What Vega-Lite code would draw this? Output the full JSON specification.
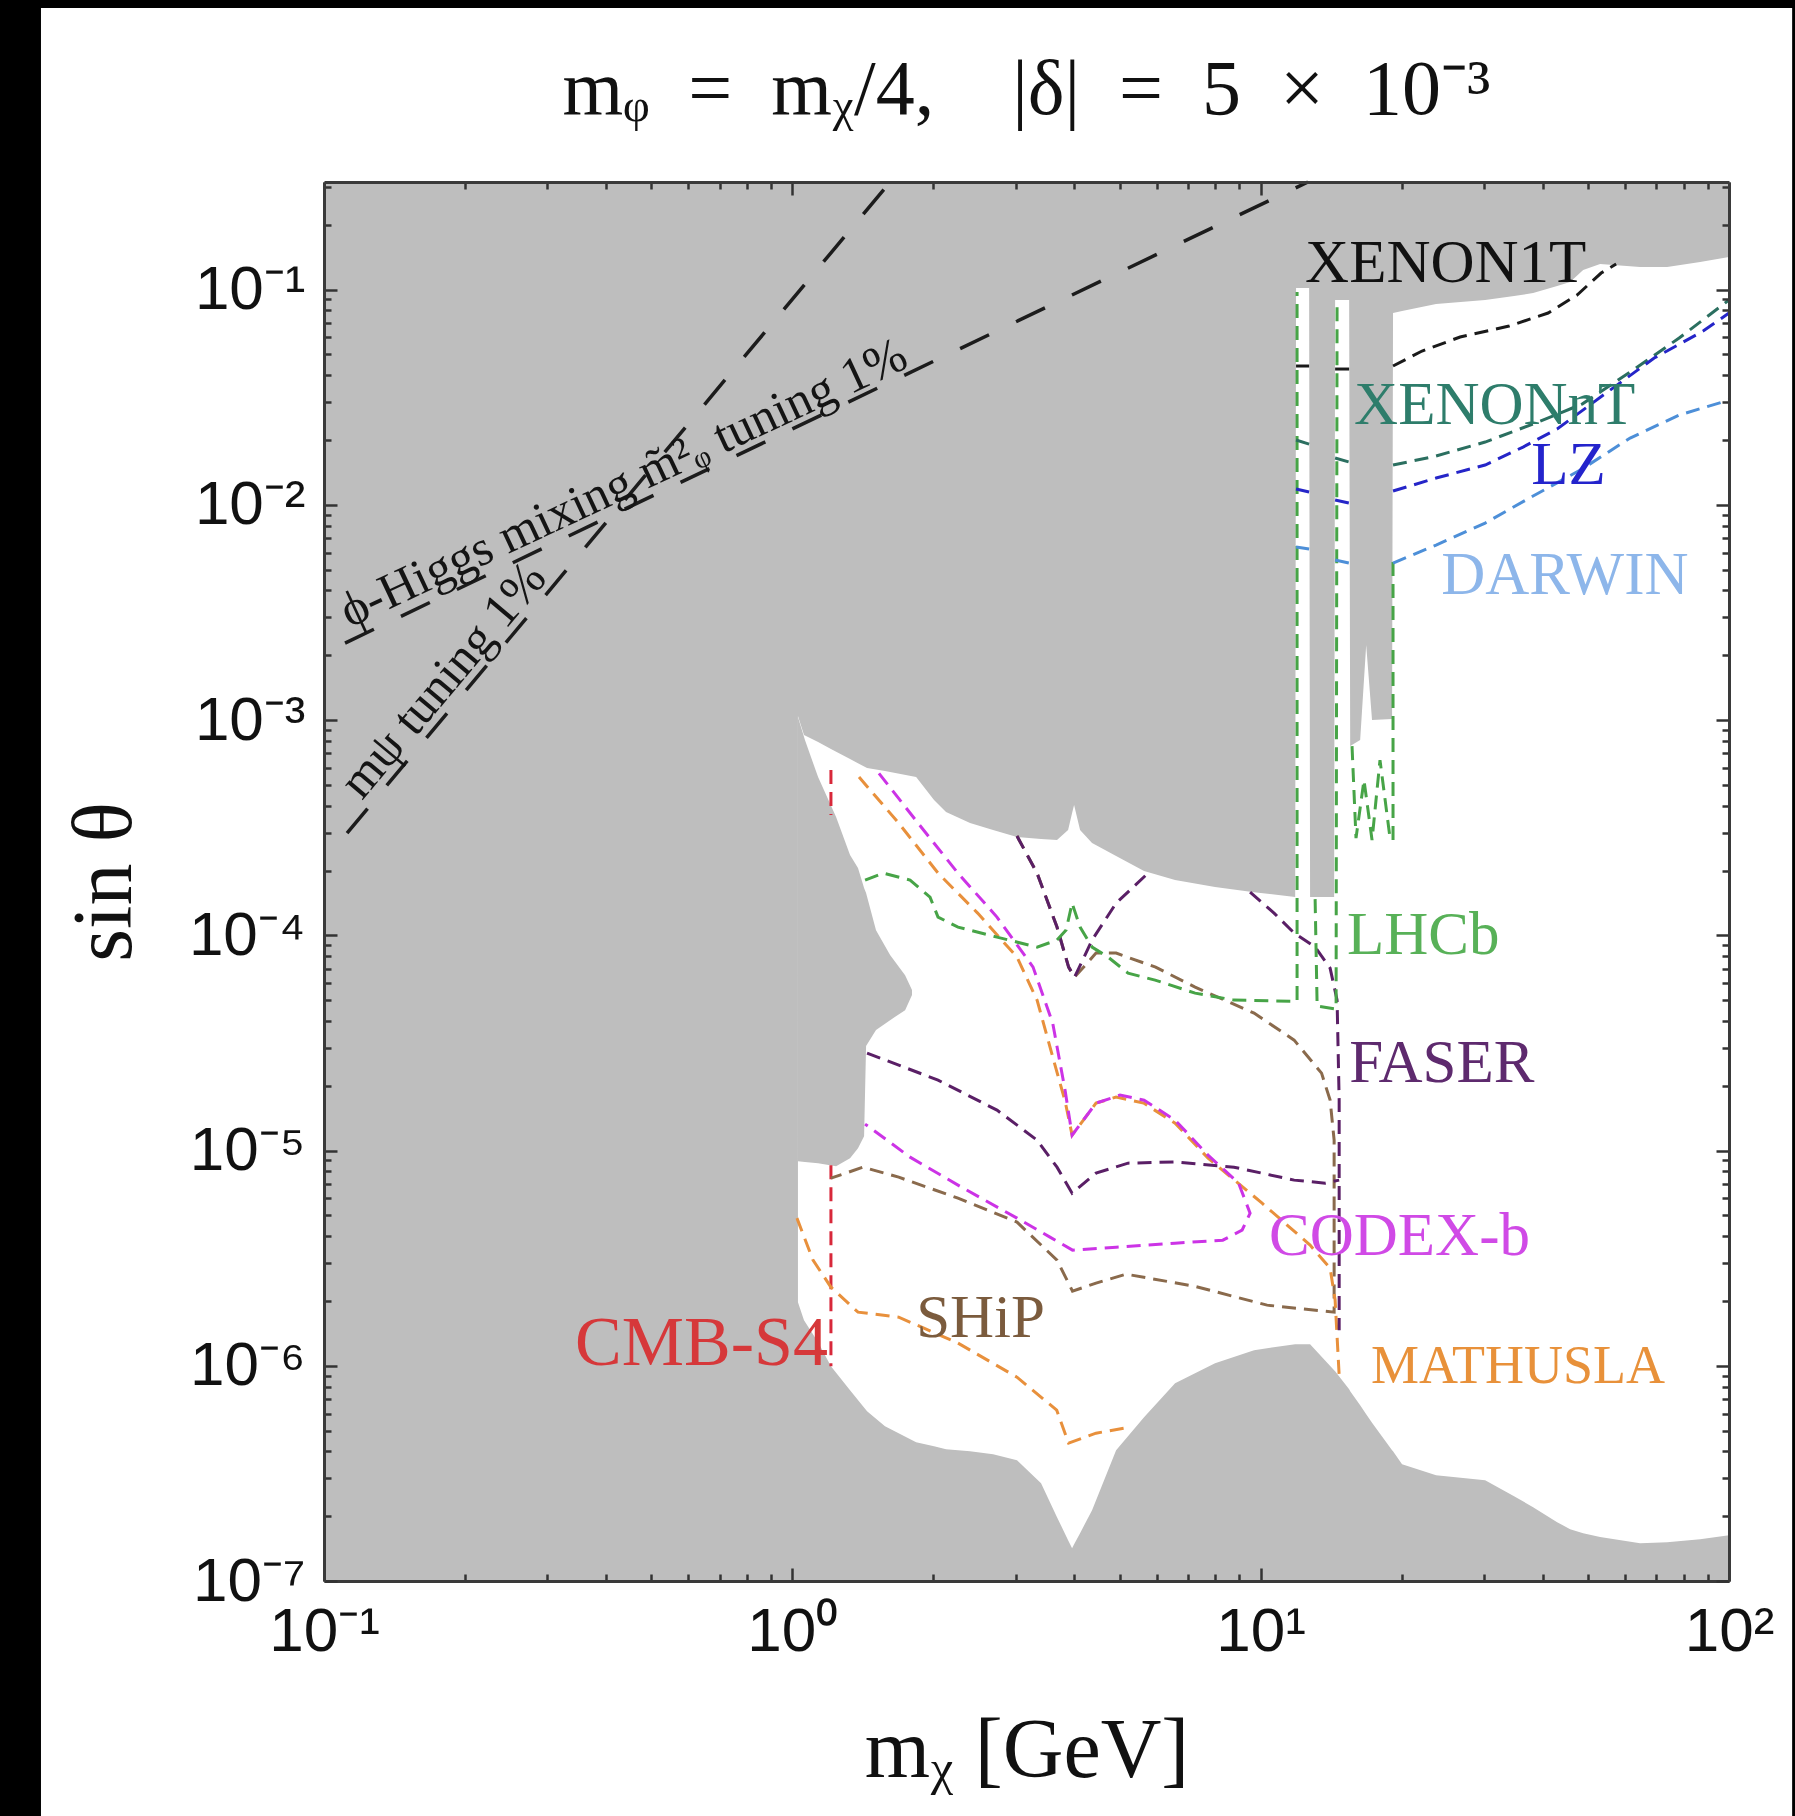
{
  "$schema": "https://vega.github.io/schema/vega-lite/v6.json",
  "width": 1405,
  "height": 1399,
  "autosize": {"type": "none"},
  "padding": {"left": 324, "top": 182, "right": 66, "bottom": 235},
  "background": "black",
  "config": {"view": {"stroke": null, "fill": null}},
  "title": {"text": "mᵩ\u2002=\u2002mᵪ/4,\u2002\u2002|δ|\u2002=\u20025\u2002×\u200210⁻³", "font": "Liberation Serif", "fontSize": 78, "fontWeight": "normal", "color": "#111111", "anchor": "middle", "frame": "group", "baseline": "alphabetic", "offset": -184},
  "datasets": {
    "panel": [{"x": 0.02487, "x2": 136.4, "y": 2.035, "y2": 1e-9}],
    "plot": [{"x": 0.1, "x2": 100, "y": 0.316228, "y2": 1e-7}],
    "white": [
      {"x": 1.028, "hi": 1.044e-3, "lo": 1.975e-6},
      {"x": 1.059, "hi": 8.518e-4, "lo": 1.629e-6},
      {"x": 1.135, "hi": 7.902e-4, "lo": 1.287e-6},
      {"x": 1.209, "hi": 7.334e-4, "lo": 9.956e-7},
      {"x": 1.328, "hi": 6.589e-4, "lo": 7.702e-7},
      {"x": 1.444, "hi": 5.984e-4, "lo": 6.152e-7},
      {"x": 1.577, "hi": 5.794e-4, "lo": 5.240e-7},
      {"x": 1.838, "hi": 5.435e-4, "lo": 4.416e-7},
      {"x": 2.007, "hi": 4.250e-4, "lo": 4.231e-7},
      {"x": 2.129, "hi": 3.737e-4, "lo": 4.097e-7},
      {"x": 2.396, "hi": 3.322e-4, "lo": 4.010e-7},
      {"x": 2.683, "hi": 3.082e-4, "lo": 3.883e-7},
      {"x": 3.018, "hi": 2.860e-4, "lo": 3.642e-7},
      {"x": 3.397, "hi": 2.799e-4, "lo": 2.847e-7},
      {"x": 3.674, "hi": 2.770e-4, "lo": 1.980e-7},
      {"x": 3.880, "hi": 3.082e-4, "lo": 1.547e-7},
      {"x": 3.957, "hi": 3.697e-4, "lo": 1.420e-7},
      {"x": 3.996, "hi": 4.027e-4, "lo": 1.483e-7},
      {"x": 4.115, "hi": 3.082e-4, "lo": 1.668e-7},
      {"x": 4.365, "hi": 2.682e-4, "lo": 2.133e-7},
      {"x": 4.913, "hi": 2.333e-4, "lo": 4.053e-7},
      {"x": 5.636, "hi": 1.988e-4, "lo": 5.770e-7},
      {"x": 6.565, "hi": 1.805e-4, "lo": 8.301e-7},
      {"x": 7.991, "hi": 1.675e-4, "lo": 1.028e-6},
      {"x": 9.681, "hi": 1.587e-4, "lo": 1.182e-6},
      {"x": 11.85, "hi": 1.505e-4, "lo": 1.260e-6},
      {"x": 11.90, "hi": 0.1017, "lo": 1.260e-6},
      {"x": 12.69, "hi": 0.1017, "lo": 1.260e-6},
      {"x": 12.75, "hi": 1.505e-4, "lo": 1.260e-6},
      {"x": 14.35, "hi": 1.505e-4, "lo": 9.541e-7},
      {"x": 14.42, "hi": 0.08948, "lo": 9.44e-7},
      {"x": 15.45, "hi": 0.08948, "lo": 7.786e-7},
      {"x": 15.53, "hi": 7.571e-4, "lo": 7.621e-7},
      {"x": 16.31, "hi": 8.073e-4, "lo": 6.560e-7},
      {"x": 16.80, "hi": 2.231e-3, "lo": 5.958e-7},
      {"x": 17.29, "hi": 1.0e-3, "lo": 5.440e-7},
      {"x": 19.08, "hi": 1.011e-3, "lo": 4.053e-7},
      {"x": 19.17, "hi": 0.07786, "lo": 4.010e-7},
      {"x": 20.04, "hi": 0.07955, "lo": 3.490e-7},
      {"x": 23.69, "hi": 0.08573, "lo": 3.102e-7},
      {"x": 30.15, "hi": 0.08948, "lo": 2.940e-7},
      {"x": 34.76, "hi": 0.09339, "lo": 2.478e-7},
      {"x": 38.17, "hi": 0.09643, "lo": 2.202e-7},
      {"x": 42.96, "hi": 0.1039, "lo": 1.876e-7},
      {"x": 45.79, "hi": 0.1085, "lo": 1.741e-7},
      {"x": 48.82, "hi": 0.1233, "lo": 1.668e-7},
      {"x": 53.06, "hi": 0.1315, "lo": 1.60e-7},
      {"x": 64.59, "hi": 0.1274, "lo": 1.498e-7},
      {"x": 73.77, "hi": 0.1274, "lo": 1.514e-7},
      {"x": 86.76, "hi": 0.1344, "lo": 1.564e-7},
      {"x": 100, "hi": 0.1417, "lo": 1.632e-7}
    ],
    "patch": [
      {"x": 1.028, "hi": 1.033e-3, "lo": 8.928e-6},
      {"x": 1.064, "hi": 8.073e-4, "lo": 8.85e-6},
      {"x": 1.135, "hi": 5.435e-4, "lo": 8.738e-6},
      {"x": 1.240, "hi": 3.542e-4, "lo": 8.462e-6},
      {"x": 1.328, "hi": 2.36e-4, "lo": 9.22e-6},
      {"x": 1.381, "hi": 2.053e-4, "lo": 1.026e-5},
      {"x": 1.423, "hi": 1.657e-4, "lo": 1.166e-5},
      {"x": 1.437, "hi": 1.571e-4, "lo": 3.056e-5},
      {"x": 1.509, "hi": 1.057e-4, "lo": 3.627e-5},
      {"x": 1.617, "hi": 8.091e-5, "lo": 4.035e-5},
      {"x": 1.741, "hi": 6.531e-5, "lo": 4.491e-5},
      {"x": 1.801, "hi": 5.565e-5, "lo": 5.274e-5}
    ],
    "tuning": [
      {"x": 0.1120, "y": 2.985e-4, "seg": "A"},
      {"x": 1.617, "y": 0.316228, "seg": "A"},
      {"x": 0.1109, "y": 2.279e-3, "seg": "B"},
      {"x": 12.62, "y": 0.316228, "seg": "B"}
    ],
    "tuningText": [
      {"x": 0.4501, "y": 1.087e-2, "text": "ϕ-Higgs mixing m̃²ᵩ tuning 1%"},
      {"x": 0.1905, "y": 1.379e-3, "text": "mψ tuning 1%"}
    ],
    "lines": [
      {"x": 1.209, "y": 5.857e-4, "line": "CMB-S4", "seg": "cmb1"},
      {"x": 1.209, "y": 3.618e-4, "line": "CMB-S4", "seg": "cmb1"},
      {"x": 1.209, "y": 8.555e-6, "line": "CMB-S4", "seg": "cmb2"},
      {"x": 1.209, "y": 9.956e-7, "line": "CMB-S4", "seg": "cmb2"},

      {"x": 3.018, "y": 2.891e-4, "line": "SHiP", "seg": "s1"},
      {"x": 3.331, "y": 1.945e-4, "line": "SHiP", "seg": "s1"},
      {"x": 3.674, "y": 1.092e-4, "line": "SHiP", "seg": "s1"},
      {"x": 3.890, "y": 7.115e-5, "line": "SHiP", "seg": "s1"},
      {"x": 4.006, "y": 6.394e-5, "line": "SHiP", "seg": "s1"},
      {"x": 4.451, "y": 8.266e-5, "line": "SHiP", "seg": "s1"},
      {"x": 4.913, "y": 8.266e-5, "line": "SHiP", "seg": "s1"},
      {"x": 5.966, "y": 7.115e-5, "line": "SHiP", "seg": "s1"},
      {"x": 7.244, "y": 5.745e-5, "line": "SHiP", "seg": "s1"},
      {"x": 9.681, "y": 4.350e-5, "line": "SHiP", "seg": "s1"},
      {"x": 11.79, "y": 3.258e-5, "line": "SHiP", "seg": "s1"},
      {"x": 13.49, "y": 2.289e-5, "line": "SHiP", "seg": "s1"},
      {"x": 14.07, "y": 1.714e-5, "line": "SHiP", "seg": "s1"},
      {"x": 14.35, "y": 1.118e-5, "line": "SHiP", "seg": "s1"},
      {"x": 14.35, "y": 1.775e-6, "line": "SHiP", "seg": "s1"},
      {"x": 10.32, "y": 1.913e-6, "line": "SHiP", "seg": "s1"},
      {"x": 7.209, "y": 2.344e-6, "line": "SHiP", "seg": "s1"},
      {"x": 5.159, "y": 2.665e-6, "line": "SHiP", "seg": "s1"},
      {"x": 4.451, "y": 2.420e-6, "line": "SHiP", "seg": "s1"},
      {"x": 3.965, "y": 2.222e-6, "line": "SHiP", "seg": "s1"},
      {"x": 3.674, "y": 3.095e-6, "line": "SHiP", "seg": "s1"},
      {"x": 3.018, "y": 4.648e-6, "line": "SHiP", "seg": "s1"},
      {"x": 2.258, "y": 6.009e-6, "line": "SHiP", "seg": "s1"},
      {"x": 1.687, "y": 7.52e-6, "line": "SHiP", "seg": "s1"},
      {"x": 1.416, "y": 8.371e-6, "line": "SHiP", "seg": "s1"},
      {"x": 1.209, "y": 7.44e-6, "line": "SHiP", "seg": "s1"},

      {"x": 1.388, "y": 5.435e-4, "line": "MATHUSLA", "seg": "m1"},
      {"x": 1.687, "y": 3.322e-4, "line": "MATHUSLA", "seg": "m1"},
      {"x": 2.047, "y": 1.945e-4, "line": "MATHUSLA", "seg": "m1"},
      {"x": 2.487, "y": 1.268e-4, "line": "MATHUSLA", "seg": "m1"},
      {"x": 3.018, "y": 7.918e-5, "line": "MATHUSLA", "seg": "m1"},
      {"x": 3.331, "y": 4.999e-5, "line": "MATHUSLA", "seg": "m1"},
      {"x": 3.597, "y": 2.725e-5, "line": "MATHUSLA", "seg": "m1"},
      {"x": 3.822, "y": 1.7e-5, "line": "MATHUSLA", "seg": "m1"},
      {"x": 3.957, "y": 1.179e-5, "line": "MATHUSLA", "seg": "m1"},
      {"x": 4.451, "y": 1.661e-5, "line": "MATHUSLA", "seg": "m1"},
      {"x": 4.913, "y": 1.771e-5, "line": "MATHUSLA", "seg": "m1"},
      {"x": 5.626, "y": 1.661e-5, "line": "MATHUSLA", "seg": "m1"},
      {"x": 6.565, "y": 1.341e-5, "line": "MATHUSLA", "seg": "m1"},
      {"x": 7.72, "y": 9.22e-6, "line": "MATHUSLA", "seg": "m1"},
      {"x": 10.07, "y": 5.696e-6, "line": "MATHUSLA", "seg": "m1"},
      {"x": 12.75, "y": 3.635e-6, "line": "MATHUSLA", "seg": "m1"},
      {"x": 14.07, "y": 2.841e-6, "line": "MATHUSLA", "seg": "m1"},
      {"x": 14.42, "y": 2.018e-6, "line": "MATHUSLA", "seg": "m1"},
      {"x": 14.71, "y": 9.044e-7, "line": "MATHUSLA", "seg": "m1"},
      {"x": 1.023, "y": 4.852e-6, "line": "MATHUSLA", "seg": "m2"},
      {"x": 1.107, "y": 3.095e-6, "line": "MATHUSLA", "seg": "m2"},
      {"x": 1.209, "y": 2.318e-6, "line": "MATHUSLA", "seg": "m2"},
      {"x": 1.381, "y": 1.775e-6, "line": "MATHUSLA", "seg": "m2"},
      {"x": 1.687, "y": 1.682e-6, "line": "MATHUSLA", "seg": "m2"},
      {"x": 2.258, "y": 1.274e-6, "line": "MATHUSLA", "seg": "m2"},
      {"x": 3.018, "y": 8.85e-7, "line": "MATHUSLA", "seg": "m2"},
      {"x": 3.669, "y": 6.218e-7, "line": "MATHUSLA", "seg": "m2"},
      {"x": 3.890, "y": 4.368e-7, "line": "MATHUSLA", "seg": "m2"},
      {"x": 4.451, "y": 4.862e-7, "line": "MATHUSLA", "seg": "m2"},
      {"x": 5.262, "y": 5.184e-7, "line": "MATHUSLA", "seg": "m2"},

      {"x": 1.531, "y": 5.655e-4, "line": "CODEX-b", "seg": "c1"},
      {"x": 1.855, "y": 3.322e-4, "line": "CODEX-b", "seg": "c1"},
      {"x": 2.258, "y": 1.945e-4, "line": "CODEX-b", "seg": "c1"},
      {"x": 2.735, "y": 1.215e-4, "line": "CODEX-b", "seg": "c1"},
      {"x": 3.266, "y": 7.115e-5, "line": "CODEX-b", "seg": "c1"},
      {"x": 3.597, "y": 3.908e-5, "line": "CODEX-b", "seg": "c1"},
      {"x": 3.822, "y": 1.909e-5, "line": "CODEX-b", "seg": "c1"},
      {"x": 3.957, "y": 1.179e-5, "line": "CODEX-b", "seg": "c1"},
      {"x": 4.451, "y": 1.661e-5, "line": "CODEX-b", "seg": "c1"},
      {"x": 5.009, "y": 1.809e-5, "line": "CODEX-b", "seg": "c1"},
      {"x": 5.636, "y": 1.714e-5, "line": "CODEX-b", "seg": "c1"},
      {"x": 6.565, "y": 1.385e-5, "line": "CODEX-b", "seg": "c1"},
      {"x": 7.72, "y": 9.52e-6, "line": "CODEX-b", "seg": "c1"},
      {"x": 8.97, "y": 7.055e-6, "line": "CODEX-b", "seg": "c1"},
      {"x": 9.493, "y": 5.118e-6, "line": "CODEX-b", "seg": "c1"},
      {"x": 9.127, "y": 4.267e-6, "line": "CODEX-b", "seg": "c1"},
      {"x": 8.30, "y": 3.833e-6, "line": "CODEX-b", "seg": "c1"},
      {"x": 6.565, "y": 3.712e-6, "line": "CODEX-b", "seg": "c1"},
      {"x": 4.913, "y": 3.557e-6, "line": "CODEX-b", "seg": "c1"},
      {"x": 3.965, "y": 3.445e-6, "line": "CODEX-b", "seg": "c1"},
      {"x": 3.549, "y": 3.960e-6, "line": "CODEX-b", "seg": "c1"},
      {"x": 3.018, "y": 4.852e-6, "line": "CODEX-b", "seg": "c1"},
      {"x": 2.258, "y": 6.906e-6, "line": "CODEX-b", "seg": "c1"},
      {"x": 1.784, "y": 9.318e-6, "line": "CODEX-b", "seg": "c1"},
      {"x": 1.430, "y": 1.327e-5, "line": "CODEX-b", "seg": "c1"},

      {"x": 3.018, "y": 2.891e-4, "line": "FASER", "seg": "f1"},
      {"x": 3.331, "y": 1.945e-4, "line": "FASER", "seg": "f1"},
      {"x": 3.674, "y": 1.092e-4, "line": "FASER", "seg": "f1"},
      {"x": 3.890, "y": 7.115e-5, "line": "FASER", "seg": "f1"},
      {"x": 4.006, "y": 6.394e-5, "line": "FASER", "seg": "f1"},
      {"x": 4.365, "y": 9.5e-5, "line": "FASER", "seg": "f1"},
      {"x": 4.913, "y": 1.411e-4, "line": "FASER", "seg": "f1"},
      {"x": 5.749, "y": 1.945e-4, "line": "FASER", "seg": "f1"},
      {"x": 9.493, "y": 1.587e-4, "line": "FASER", "seg": "f2"},
      {"x": 10.68, "y": 1.268e-4, "line": "FASER", "seg": "f2"},
      {"x": 11.79, "y": 1.024e-4, "line": "FASER", "seg": "f2"},
      {"x": 13.07, "y": 8.817e-5, "line": "FASER", "seg": "f2"},
      {"x": 14.07, "y": 7.04e-5, "line": "FASER", "seg": "f2"},
      {"x": 14.56, "y": 4.999e-5, "line": "FASER", "seg": "f2"},
      {"x": 14.71, "y": 1.714e-5, "line": "FASER", "seg": "f2"},
      {"x": 14.71, "y": 1.463e-6, "line": "FASER", "seg": "f2"},
      {"x": 1.444, "y": 2.835e-5, "line": "FASER", "seg": "f3"},
      {"x": 2.047, "y": 2.124e-5, "line": "FASER", "seg": "f3"},
      {"x": 2.735, "y": 1.541e-5, "line": "FASER", "seg": "f3"},
      {"x": 3.331, "y": 1.118e-5, "line": "FASER", "seg": "f3"},
      {"x": 3.674, "y": 8.371e-6, "line": "FASER", "seg": "f3"},
      {"x": 3.957, "y": 6.339e-6, "line": "FASER", "seg": "f3"},
      {"x": 4.451, "y": 7.852e-6, "line": "FASER", "seg": "f3"},
      {"x": 5.210, "y": 8.74e-6, "line": "FASER", "seg": "f3"},
      {"x": 6.565, "y": 8.85e-6, "line": "FASER", "seg": "f3"},
      {"x": 8.772, "y": 8.371e-6, "line": "FASER", "seg": "f3"},
      {"x": 11.79, "y": 7.286e-6, "line": "FASER", "seg": "f3"},
      {"x": 13.73, "y": 7.055e-6, "line": "FASER", "seg": "f3"},
      {"x": 14.71, "y": 7.286e-6, "line": "FASER", "seg": "f3"},

      {"x": 1.430, "y": 1.805e-4, "line": "LHCb", "seg": "l1"},
      {"x": 1.562, "y": 1.945e-4, "line": "LHCb", "seg": "l1"},
      {"x": 1.784, "y": 1.805e-4, "line": "LHCb", "seg": "l1"},
      {"x": 1.968, "y": 1.505e-4, "line": "LHCb", "seg": "l1"},
      {"x": 2.047, "y": 1.215e-4, "line": "LHCb", "seg": "l1"},
      {"x": 2.258, "y": 1.092e-4, "line": "LHCb", "seg": "l1"},
      {"x": 2.735, "y": 9.808e-5, "line": "LHCb", "seg": "l1"},
      {"x": 3.331, "y": 8.817e-5, "line": "LHCb", "seg": "l1"},
      {"x": 3.674, "y": 9.5e-5, "line": "LHCb", "seg": "l1"},
      {"x": 3.842, "y": 1.057e-4, "line": "LHCb", "seg": "l1"},
      {"x": 3.957, "y": 1.411e-4, "line": "LHCb", "seg": "l1"},
      {"x": 4.115, "y": 1.092e-4, "line": "LHCb", "seg": "l1"},
      {"x": 4.365, "y": 8.817e-5, "line": "LHCb", "seg": "l1"},
      {"x": 4.722, "y": 7.918e-5, "line": "LHCb", "seg": "l1"},
      {"x": 5.210, "y": 6.673e-5, "line": "LHCb", "seg": "l1"},
      {"x": 5.951, "y": 6.192e-5, "line": "LHCb", "seg": "l1"},
      {"x": 7.244, "y": 5.388e-5, "line": "LHCb", "seg": "l1"},
      {"x": 8.772, "y": 4.999e-5, "line": "LHCb", "seg": "l1"},
      {"x": 11.73, "y": 4.94e-5, "line": "LHCb", "seg": "l1"},
      {"x": 11.96, "y": 4.94e-5, "line": "LHCb", "seg": "l1"},
      {"x": 11.96, "y": 0.0974, "line": "LHCb", "seg": "l1"},
      {"x": 13.07, "y": 1.473e-4, "line": "LHCb", "seg": "l2"},
      {"x": 13.20, "y": 4.688e-5, "line": "LHCb", "seg": "l2"},
      {"x": 14.49, "y": 4.541e-5, "line": "LHCb", "seg": "l2"},
      {"x": 14.56, "y": 0.08759, "line": "LHCb", "seg": "l2"},
      {"x": 15.67, "y": 7.571e-4, "line": "LHCb", "seg": "l3"},
      {"x": 15.98, "y": 2.829e-4, "line": "LHCb", "seg": "l3"},
      {"x": 16.62, "y": 5.263e-4, "line": "LHCb", "seg": "l3"},
      {"x": 17.29, "y": 2.77e-4, "line": "LHCb", "seg": "l3"},
      {"x": 17.98, "y": 6.518e-4, "line": "LHCb", "seg": "l3"},
      {"x": 18.89, "y": 2.829e-4, "line": "LHCb", "seg": "l3"},
      {"x": 19.17, "y": 2.77e-4, "line": "LHCb", "seg": "l4"},
      {"x": 19.17, "y": 5.54e-3, "line": "LHCb", "seg": "l4"},

      {"x": 11.90, "y": 0.04416, "line": "XENON1T", "seg": "x1a"},
      {"x": 12.69, "y": 0.04416, "line": "XENON1T", "seg": "x1a"},
      {"x": 14.42, "y": 0.04276, "line": "XENON1T", "seg": "x1b"},
      {"x": 15.45, "y": 0.04276, "line": "XENON1T", "seg": "x1b"},
      {"x": 19.17, "y": 0.04416, "line": "XENON1T", "seg": "x1c"},
      {"x": 22.11, "y": 0.05184, "line": "XENON1T", "seg": "x1c"},
      {"x": 26.66, "y": 0.06021, "line": "XENON1T", "seg": "x1c"},
      {"x": 33.92, "y": 0.06774, "line": "XENON1T", "seg": "x1c"},
      {"x": 41.09, "y": 0.07786, "line": "XENON1T", "seg": "x1c"},
      {"x": 47.38, "y": 0.09439, "line": "XENON1T", "seg": "x1c"},
      {"x": 53.33, "y": 0.1194, "line": "XENON1T", "seg": "x1c"},
      {"x": 57.41, "y": 0.1315, "line": "XENON1T", "seg": "x1c"},

      {"x": 11.90, "y": 0.0200, "line": "XENONnT", "seg": "xna"},
      {"x": 12.69, "y": 0.01916, "line": "XENONnT", "seg": "xna"},
      {"x": 14.42, "y": 0.0165, "line": "XENONnT", "seg": "xnb"},
      {"x": 15.45, "y": 0.01581, "line": "XENONnT", "seg": "xnb"},
      {"x": 19.17, "y": 0.01531, "line": "XENONnT", "seg": "xnc"},
      {"x": 23.69, "y": 0.01686, "line": "XENONnT", "seg": "xnc"},
      {"x": 30.15, "y": 0.01958, "line": "XENONnT", "seg": "xnc"},
      {"x": 38.17, "y": 0.02375, "line": "XENONnT", "seg": "xnc"},
      {"x": 48.57, "y": 0.0294, "line": "XENONnT", "seg": "xnc"},
      {"x": 61.5, "y": 0.04141, "line": "XENONnT", "seg": "xnc"},
      {"x": 78.27, "y": 0.05958, "line": "XENONnT", "seg": "xnc"},
      {"x": 100, "y": 0.08948, "line": "XENONnT", "seg": "xnc"},

      {"x": 11.90, "y": 0.01184, "line": "LZ", "seg": "lza"},
      {"x": 12.69, "y": 0.01147, "line": "LZ", "seg": "lza"},
      {"x": 14.42, "y": 0.01053, "line": "LZ", "seg": "lzb"},
      {"x": 15.45, "y": 0.0102, "line": "LZ", "seg": "lzb"},
      {"x": 19.17, "y": 0.01159, "line": "LZ", "seg": "lzc"},
      {"x": 23.69, "y": 0.01332, "line": "LZ", "seg": "lzc"},
      {"x": 30.15, "y": 0.01531, "line": "LZ", "seg": "lzc"},
      {"x": 36.33, "y": 0.01856, "line": "LZ", "seg": "lzc"},
      {"x": 42.96, "y": 0.0225, "line": "LZ", "seg": "lzc"},
      {"x": 54.64, "y": 0.03307, "line": "LZ", "seg": "lzc"},
      {"x": 69.22, "y": 0.0481, "line": "LZ", "seg": "lzc"},
      {"x": 88.06, "y": 0.0642, "line": "LZ", "seg": "lzc"},
      {"x": 100, "y": 0.07786, "line": "LZ", "seg": "lzc"},

      {"x": 11.90, "y": 0.006367, "line": "DARWIN", "seg": "da"},
      {"x": 12.69, "y": 0.006232, "line": "DARWIN", "seg": "da"},
      {"x": 14.42, "y": 0.00554, "line": "DARWIN", "seg": "db"},
      {"x": 15.45, "y": 0.005366, "line": "DARWIN", "seg": "db"},
      {"x": 19.17, "y": 0.005366, "line": "DARWIN", "seg": "dc"},
      {"x": 23.69, "y": 0.006505, "line": "DARWIN", "seg": "dc"},
      {"x": 30.15, "y": 0.008229, "line": "DARWIN", "seg": "dc"},
      {"x": 38.17, "y": 0.01099, "line": "DARWIN", "seg": "dc"},
      {"x": 48.57, "y": 0.01467, "line": "DARWIN", "seg": "dc"},
      {"x": 61.5, "y": 0.02044, "line": "DARWIN", "seg": "dc"},
      {"x": 78.27, "y": 0.02614, "line": "DARWIN", "seg": "dc"},
      {"x": 100, "y": 0.03069, "line": "DARWIN", "seg": "dc"}
    ],
    "labels": [
      {"x": 12.44, "y": 0.1085, "name": "XENON1T"},
      {"x": 15.83, "y": 0.02375, "name": "XENONnT"},
      {"x": 37.8, "y": 0.01255, "name": "LZ"},
      {"x": 24.29, "y": 0.00385, "name": "DARWIN"},
      {"x": 15.29, "y": 8.177e-5, "name": "LHCb"},
      {"x": 15.45, "y": 2.078e-5, "name": "FASER"},
      {"x": 10.42, "y": 3.265e-6, "name": "CODEX-b"},
      {"x": 1.838, "y": 1.358e-6, "name": "SHiP"},
      {"x": 17.2, "y": 8.301e-7, "name": "MATHUSLA"},
      {"x": 0.3436, "y": 1.006e-6, "name": "CMB-S4"}
    ]
  },
  "encoding": {
    "x": {"field": "x", "type": "quantitative", "scale": {"type": "log", "domain": [0.1, 100], "nice": false}, "axis": null},
    "y": {"field": "y", "type": "quantitative", "scale": {"type": "log", "domain": [1e-7, 0.316228], "nice": false}, "axis": null}
  },
  "layer": [
    {
      "data": {"name": "panel"},
      "mark": {"type": "rect", "fill": "white", "clip": false},
      "encoding": {"x2": {"field": "x2"}, "y2": {"field": "y2"}}
    },
    {
      "data": {"name": "plot"},
      "mark": {"type": "rect", "fill": "#bebebe"},
      "encoding": {
        "x": {"field": "x", "type": "quantitative", "scale": {"type": "log", "domain": [0.1, 100], "nice": false},
          "axis": {"orient": "bottom", "values": [0.1, 1, 10, 100], "labelExpr": "(datum.value < 1 ? '10⁻' : '10') + ['⁰','¹','²'][abs(round(log(datum.value)/LN10))]", "ticks": false, "domain": false, "grid": false, "labelFont": "Liberation Sans", "labelFontSize": 62, "labelColor": "#111111", "labelPadding": 20, "labelBaseline": "top", "labelAlign": "center", "labelFlush": false, "labelOverlap": false, "labelBound": false, "title": "mᵪ [GeV]", "titleFont": "Liberation Serif", "titleFontSize": 84, "titleFontWeight": "normal", "titleColor": "#111111", "titleX": 702.5, "titleY": 195, "titleBaseline": "alphabetic", "titleAlign": "center", "zindex": 1}},
        "x2": {"field": "x2"},
        "y": {"field": "y", "type": "quantitative", "scale": {"type": "log", "domain": [1e-7, 0.316228], "nice": false},
          "axis": {"orient": "left", "values": [1e-7, 1e-6, 1e-5, 1e-4, 1e-3, 1e-2, 0.1], "labelExpr": "'10⁻' + ['⁰','¹','²','³','⁴','⁵','⁶','⁷'][abs(round(log(datum.value)/LN10))]", "ticks": false, "domain": false, "grid": false, "labelFont": "Liberation Sans", "labelFontSize": 62, "labelColor": "#111111", "labelPadding": 19, "labelBaseline": "middle", "labelAlign": "right", "labelFlush": false, "labelOverlap": false, "title": "sin θ", "titleFont": "Liberation Serif", "titleFontSize": 84, "titleFontWeight": "normal", "titleColor": "#111111", "titleAngle": -90, "titleX": -194, "titleY": 699.5, "titleBaseline": "alphabetic", "titleAlign": "center", "zindex": 1}},
        "y2": {"field": "y2"}
      }
    },
    {
      "data": {"name": "white"},
      "mark": {"type": "area", "fill": "white", "interpolate": "linear"},
      "encoding": {
        "x": {"field": "x", "type": "quantitative", "scale": {"type": "log", "domain": [0.1, 100], "nice": false},
          "axis": {"orient": "bottom", "values": [0.1,0.2,0.3,0.4,0.5,0.6,0.7,0.8,0.9,1,2,3,4,5,6,7,8,9,10,20,30,40,50,60,70,80,90,100], "labels": false, "ticks": true, "tickSize": {"condition": {"test": "abs(log(datum.value)/LN10 - round(log(datum.value)/LN10)) < 0.01", "value": -13}, "value": -7}, "tickColor": "#333333", "tickWidth": 2.5, "domain": true, "domainColor": "#3a3a3a", "domainWidth": 3, "grid": false, "title": null, "zindex": 2}},
        "y": {"field": "hi", "type": "quantitative", "scale": {"type": "log", "domain": [1e-7, 0.316228], "nice": false},
          "axis": {"orient": "left", "values": [1e-7,2e-7,3e-7,4e-7,5e-7,6e-7,7e-7,8e-7,9e-7,1e-6,2e-6,3e-6,4e-6,5e-6,6e-6,7e-6,8e-6,9e-6,1e-5,2e-5,3e-5,4e-5,5e-5,6e-5,7e-5,8e-5,9e-5,1e-4,2e-4,3e-4,4e-4,5e-4,6e-4,7e-4,8e-4,9e-4,0.001,0.002,0.003,0.004,0.005,0.006,0.007,0.008,0.009,0.01,0.02,0.03,0.04,0.05,0.06,0.07,0.08,0.09,0.1,0.2,0.3], "labels": false, "ticks": true, "tickSize": {"condition": {"test": "abs(log(datum.value)/LN10 - round(log(datum.value)/LN10)) < 0.01", "value": -13}, "value": -7}, "tickColor": "#333333", "tickWidth": 2.5, "domain": true, "domainColor": "#3a3a3a", "domainWidth": 3, "grid": false, "title": null, "zindex": 2}},
        "y2": {"field": "lo"}
      }
    },
    {
      "data": {"name": "patch"},
      "mark": {"type": "area", "fill": "#bebebe", "interpolate": "linear"},
      "encoding": {
        "x": {"field": "x", "type": "quantitative", "scale": {"type": "log", "domain": [0.1, 100], "nice": false},
          "axis": {"orient": "top", "values": [0.1,0.2,0.3,0.4,0.5,0.6,0.7,0.8,0.9,1,2,3,4,5,6,7,8,9,10,20,30,40,50,60,70,80,90,100], "labels": false, "ticks": true, "tickSize": {"condition": {"test": "abs(log(datum.value)/LN10 - round(log(datum.value)/LN10)) < 0.01", "value": -13}, "value": -7}, "tickColor": "#333333", "tickWidth": 2.5, "domain": true, "domainColor": "#3a3a3a", "domainWidth": 3, "grid": false, "title": null, "zindex": 2}},
        "y": {"field": "hi", "type": "quantitative", "scale": {"type": "log", "domain": [1e-7, 0.316228], "nice": false},
          "axis": {"orient": "right", "values": [1e-7,2e-7,3e-7,4e-7,5e-7,6e-7,7e-7,8e-7,9e-7,1e-6,2e-6,3e-6,4e-6,5e-6,6e-6,7e-6,8e-6,9e-6,1e-5,2e-5,3e-5,4e-5,5e-5,6e-5,7e-5,8e-5,9e-5,1e-4,2e-4,3e-4,4e-4,5e-4,6e-4,7e-4,8e-4,9e-4,0.001,0.002,0.003,0.004,0.005,0.006,0.007,0.008,0.009,0.01,0.02,0.03,0.04,0.05,0.06,0.07,0.08,0.09,0.1,0.2,0.3], "labels": false, "ticks": true, "tickSize": {"condition": {"test": "abs(log(datum.value)/LN10 - round(log(datum.value)/LN10)) < 0.01", "value": -13}, "value": -7}, "tickColor": "#333333", "tickWidth": 2.5, "domain": true, "domainColor": "#3a3a3a", "domainWidth": 3, "grid": false, "title": null, "zindex": 2}},
        "y2": {"field": "lo"}
      }
    },
    {
      "data": {"name": "tuning"},
      "mark": {"type": "line", "stroke": "#1c1c1c", "strokeWidth": 3.5, "strokeDash": [32, 30]},
      "encoding": {"detail": {"field": "seg"}, "order": {"value": null}}
    },
    {
      "data": {"name": "tuningText"},
      "transform": [{"filter": "datum.text == 'ϕ-Higgs mixing m̃²ᵩ tuning 1%'"}],
      "mark": {"type": "text", "font": "Liberation Serif", "fontSize": 50, "angle": -25, "align": "center", "baseline": "alphabetic", "fill": "#141414"},
      "encoding": {"text": {"field": "text"}}
    },
    {
      "data": {"name": "tuningText"},
      "transform": [{"filter": "datum.text == 'mψ tuning 1%'"}],
      "mark": {"type": "text", "font": "Liberation Serif", "fontSize": 50, "angle": -50, "align": "center", "baseline": "alphabetic", "fill": "#141414"},
      "encoding": {"text": {"field": "text"}}
    },
    {
      "data": {"name": "lines"},
      "mark": {"type": "line", "strokeWidth": 3, "strokeDash": [14, 8]},
      "encoding": {
        "color": {"field": "line", "type": "nominal", "scale": {"domain": ["XENON1T", "XENONnT", "LZ", "DARWIN", "LHCb", "SHiP", "FASER", "MATHUSLA", "CODEX-b", "CMB-S4"], "range": ["#1a1a1a", "#2b6f60", "#2525c8", "#4d8fd8", "#47a447", "#8a6a4c", "#5a1f66", "#e8903c", "#cc33e6", "#d8283a"]}, "legend": null},
        "detail": {"field": "seg"},
        "order": {"value": null}
      }
    },
    {
      "data": {"name": "labels"},
      "transform": [{"filter": "datum.name != 'MATHUSLA' && datum.name != 'CMB-S4'"}],
      "mark": {"type": "text", "font": "Liberation Serif", "fontSize": 61, "align": "left", "baseline": "alphabetic"},
      "encoding": {
        "text": {"field": "name"},
        "color": {"field": "name", "type": "nominal", "scale": {"domain": ["XENON1T", "XENONnT", "LZ", "DARWIN", "LHCb", "FASER", "CODEX-b", "SHiP"], "range": ["#111111", "#2e7d6b", "#2424cc", "#8db6ea", "#58b158", "#5e2a6e", "#d04ae6", "#7b5b3d"]}, "legend": null}
      }
    },
    {
      "data": {"name": "labels"},
      "transform": [{"filter": "datum.name == 'MATHUSLA'"}],
      "mark": {"type": "text", "font": "Liberation Serif", "fontSize": 54, "align": "left", "baseline": "alphabetic", "fill": "#e8913a"},
      "encoding": {"text": {"field": "name"}}
    },
    {
      "data": {"name": "labels"},
      "transform": [{"filter": "datum.name == 'CMB-S4'"}],
      "mark": {"type": "text", "font": "Liberation Serif", "fontSize": 70, "align": "left", "baseline": "alphabetic", "fill": "#d6383a"},
      "encoding": {"text": {"field": "name"}}
    }
  ],
  "resolve": {"axis": {"x": "independent", "y": "independent"}, "scale": {"color": "independent"}}
}
